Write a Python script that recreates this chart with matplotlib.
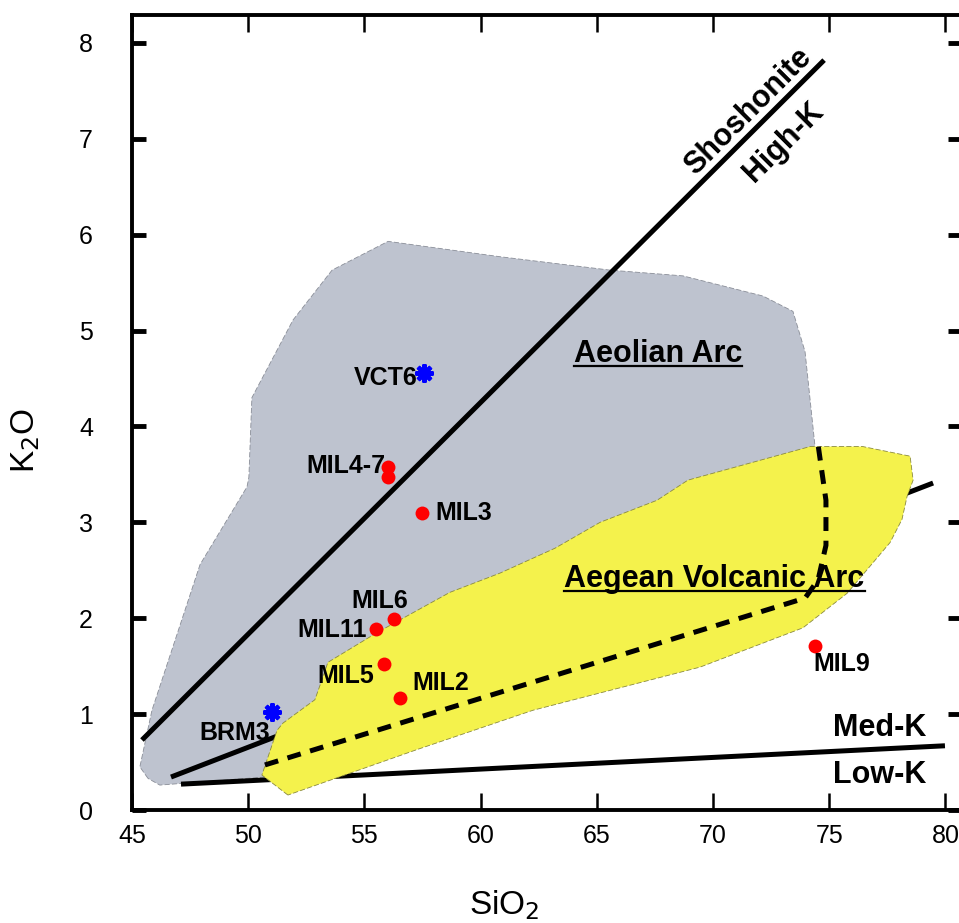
import matplotlib
matplotlib.use("Agg")
import matplotlib.pyplot as plt
from matplotlib.patches import Polygon
from matplotlib.lines import Line2D

plt.rcParams['font.family'] = ['Liberation Sans', 'DejaVu Sans']
plt.rcParams['lines.scale_dashes'] = False

# field outlines (SiO2, K2O)
aeolian_x = [45.69, 45.34, 45.86, 47.93, 49.95, 50.03, 50.16, 51.93, 53.61, 56.02, 60.83, 65.57, 68.71,
             72.15, 73.44, 73.96, 74.39, 74.26, 69.44, 56.53, 51.80, 46.20]
aeolian_y = [0.33, 0.45, 1.04, 2.56, 3.37, 3.47, 4.30, 5.11, 5.63, 5.93, 5.77, 5.63, 5.57,
             5.36, 5.20, 4.78, 3.79, 3.55, 2.61, 0.94, 0.365, 0.26]
aegean_x = [51.71, 50.59, 51.24, 51.50, 52.87, 53.09, 53.43, 55.54, 58.68, 60.83, 63.20, 65.14, 67.59,
            68.92, 74.17, 76.45, 78.48, 78.61, 78.35, 78.13, 77.62, 75.77, 73.87, 69.44, 62.25, 57.26]
aegean_y = [0.156, 0.365, 0.83, 0.907, 1.15, 1.30, 1.54, 1.85, 2.27, 2.47, 2.73, 3.00, 3.23,
            3.44, 3.79, 3.79, 3.69, 3.44, 3.27, 3.03, 2.79, 2.26, 1.90, 1.49, 1.04, 0.63]

# series boundaries
shosh_x = [45.43, 74.78]
shosh_y = [0.73, 7.82]
highk_x = [46.68, 79.47]
highk_y = [0.344, 3.41]
lowk_x = [47.11, 79.98]
lowk_y = [0.27, 0.67]
trend_x = [50.72, 73.96, 74.52, 74.86, 74.86, 74.52]
trend_y = [0.47, 2.21, 2.40, 2.76, 3.23, 3.81]

# samples
mil_names = ['MIL4-7', 'MIL4-7', 'MIL3', 'MIL6', 'MIL11', 'MIL5', 'MIL2', 'MIL9']
mil_sio2 = [56.02, 56.02, 57.48, 56.27, 55.50, 55.84, 56.53, 74.39]
mil_k2o = [3.58, 3.47, 3.10, 1.99, 1.89, 1.52, 1.17, 1.71]
ref_names = ['VCT6', 'BRM3']
ref_sio2 = [57.56, 51.02]
ref_k2o = [4.56, 1.02]

xticks = [45, 50, 55, 60, 65, 70, 75, 80]
yticks = [0, 1, 2, 3, 4, 5, 6, 7, 8]

fig = plt.figure(figsize=(9.59, 9.23), dpi=100)
ax = fig.add_axes([0.1376, 0.1224, 0.8652, 0.8613])

ax.add_patch(Polygon(list(zip(aeolian_x, aeolian_y)), closed=True, facecolor='#bec3cf',
                     edgecolor='#8a8e98', linewidth=0.6, linestyle='--', zorder=1))
ax.plot(shosh_x, shosh_y, color='black', lw=3.6, solid_capstyle='butt', zorder=2)
ax.plot(highk_x, highk_y, color='black', lw=3.6, solid_capstyle='butt', zorder=2)
ax.plot(lowk_x, lowk_y, color='black', lw=3.6, solid_capstyle='butt', zorder=2)
ax.add_patch(Polygon(list(zip(aegean_x, aegean_y)), closed=True, facecolor='#f4f24c',
                     edgecolor='#8a8a40', linewidth=0.6, linestyle='--', zorder=3))
ax.plot(trend_x, trend_y, color='black', lw=3.6, linestyle=(0, (10, 7)), zorder=4)

ax.plot(mil_sio2, mil_k2o, 'o', color='red', markersize=10, markeredgewidth=0, zorder=5)
ax.plot(ref_sio2, ref_k2o, linestyle='none', marker=(8, 2, 0), color='blue',
        markersize=13, markeredgewidth=3, zorder=5)

lab = dict(fontsize=18, fontweight='bold', zorder=6)
ax.text(57.31, 4.51, 'VCT6', ha='right', va='center', **lab)
ax.text(55.89, 3.59, 'MIL4-7', ha='right', va='center', **lab)
ax.text(58.04, 3.10, 'MIL3', ha='left', va='center', **lab)
ax.text(55.65, 2.18, 'MIL6', ha='center', va='center', **lab)
ax.text(55.11, 1.88, 'MIL11', ha='right', va='center', **lab)
ax.text(55.41, 1.40, 'MIL5', ha='right', va='center', **lab)
ax.text(57.05, 1.32, 'MIL2', ha='left', va='center', **lab)
ax.text(74.30, 1.52, 'MIL9', ha='left', va='center', **lab)
ax.text(50.94, 0.80, 'BRM3', ha='right', va='center', **lab)

big = dict(fontsize=22, fontweight='bold', zorder=6)
ax.text(71.50, 7.28, 'Shoshonite', rotation=45, ha='center', va='center', **big)
ax.text(73.05, 6.97, 'High-K', rotation=45, ha='center', va='center', **big)
ax.text(77.19, 0.855, 'Med-K', ha='center', va='center', **big)
ax.text(77.19, 0.365, 'Low-K', ha='center', va='center', **big)

t1 = ax.text(67.63, 4.67, 'Aeolian Arc', ha='center', va='baseline', **big)
t2 = ax.text(70.06, 2.33, 'Aegean Volcanic Arc', ha='center', va='baseline', **big)

ax.set_xlim(45, 80.7)
ax.set_ylim(0, 8.29)
ax.set_xticks(xticks)
ax.set_yticks(yticks)
ax.set_xticklabels([str(v) for v in xticks], fontsize=18, family=['Liberation Sans Narrow', 'Liberation Sans'])
ax.set_yticklabels([str(v) for v in yticks], fontsize=18, family=['Liberation Sans Narrow', 'Liberation Sans'])
ax.tick_params(axis='x', which='both', direction='in', length=12, width=1.8, top=True, pad=10)
ax.tick_params(axis='y', which='both', direction='in', length=10, width=3.5, right=True, pad=28)
for s in ax.spines.values():
    s.set_linewidth(2.8)

ax.set_xlabel('SiO$_2$', fontsize=24)
ax.set_ylabel('K$_2$O', fontsize=24)
ax.xaxis.set_label_coords(0.449, -0.098)
ax.yaxis.set_label_coords(-0.108, 0.465)

# underline the field names
fig.canvas.draw()
r = fig.canvas.get_renderer()
for t in (t1, t2):
    bb = t.get_window_extent(r)
    base = ax.transData.transform((0, t.get_position()[1]))[1] - 4
    x0, y0 = fig.transFigure.inverted().transform((bb.x0, base))
    x1, _ = fig.transFigure.inverted().transform((bb.x1, base))
    fig.add_artist(Line2D([x0, x1], [y0, y0], transform=fig.transFigure, color='black', lw=1.6, zorder=7))

fig.savefig('out.png', dpi=100)
